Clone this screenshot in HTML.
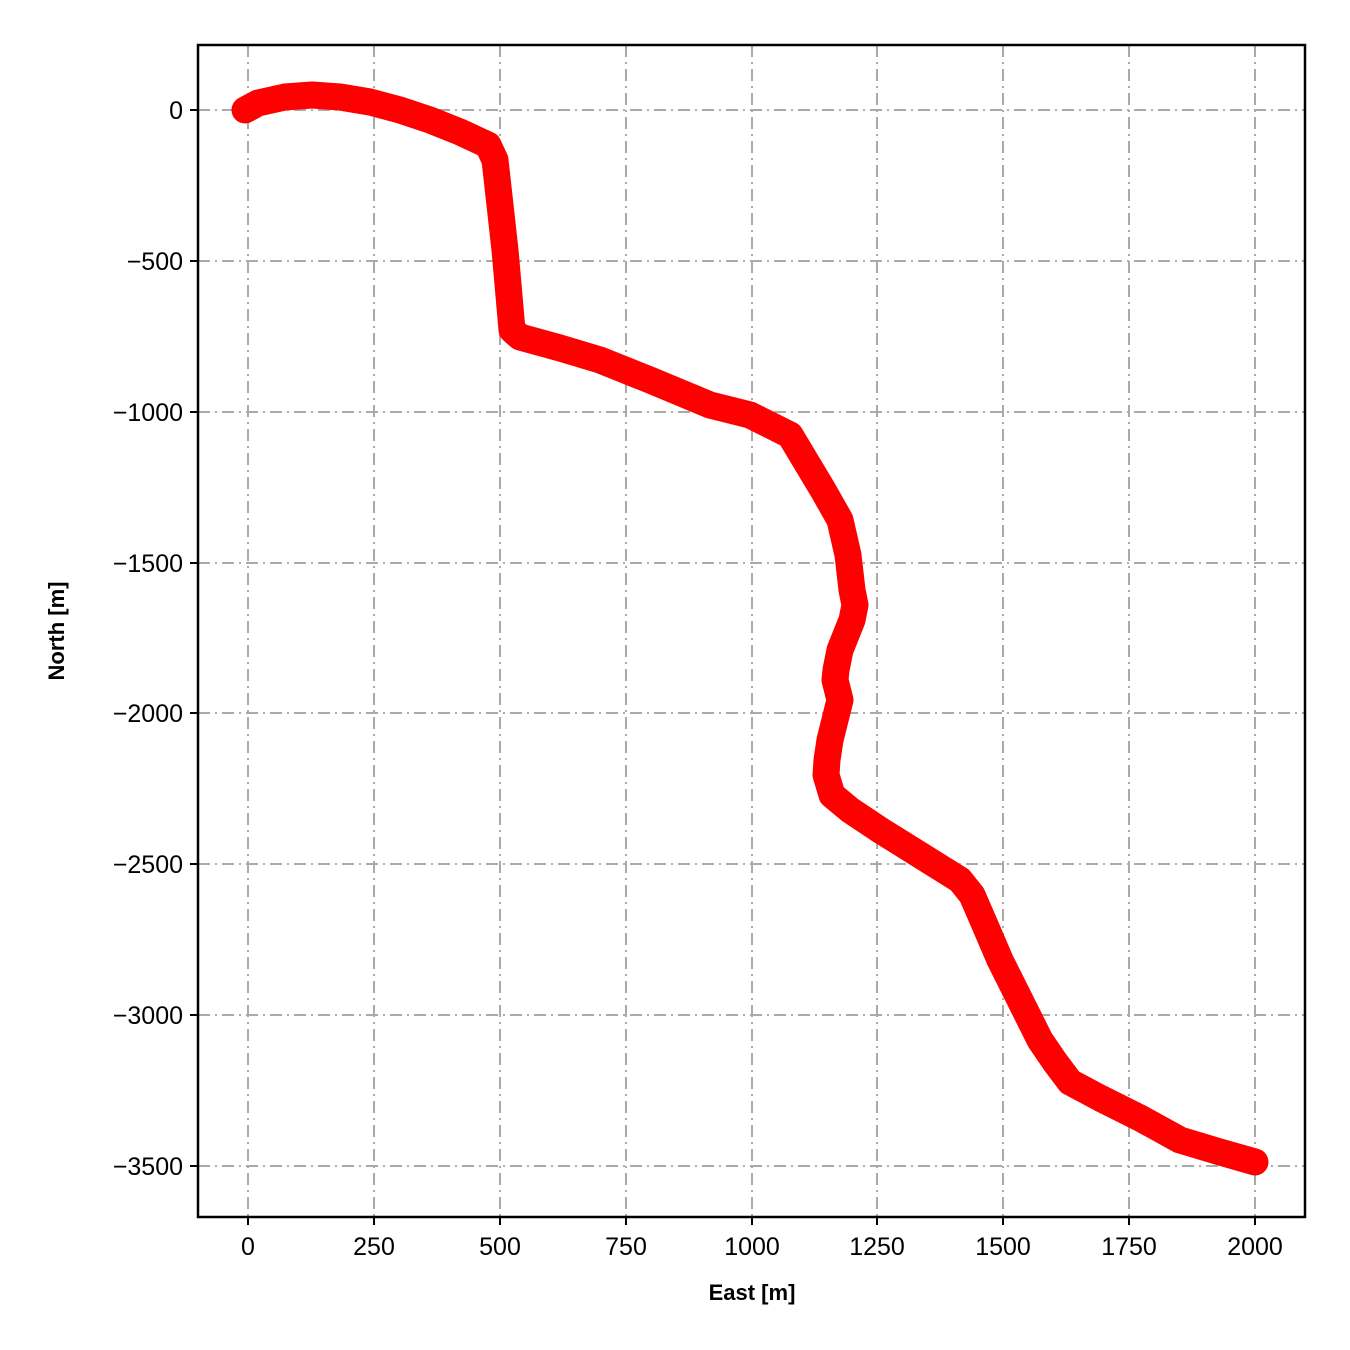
<!DOCTYPE html>
<html><head><meta charset="utf-8"><style>body{margin:0;background:#fff}svg{display:block}text{font-family:"Liberation Sans",Arial,sans-serif}</style></head><body>
<svg width="1350" height="1350" viewBox="0 0 1350 1350">
<rect width="1350" height="1350" fill="#fff"/>
<g stroke="#aaa" stroke-width="2" stroke-dasharray="12,5,2,5">
<line x1="248" y1="45" x2="248" y2="1217"/><line x1="374" y1="45" x2="374" y2="1217"/><line x1="500" y1="45" x2="500" y2="1217"/><line x1="626" y1="45" x2="626" y2="1217"/><line x1="752" y1="45" x2="752" y2="1217"/><line x1="877" y1="45" x2="877" y2="1217"/><line x1="1003" y1="45" x2="1003" y2="1217"/><line x1="1129" y1="45" x2="1129" y2="1217"/><line x1="1255" y1="45" x2="1255" y2="1217"/>
<line x1="198" y1="110" x2="1305" y2="110"/><line x1="198" y1="261" x2="1305" y2="261"/><line x1="198" y1="412" x2="1305" y2="412"/><line x1="198" y1="563" x2="1305" y2="563"/><line x1="198" y1="713" x2="1305" y2="713"/><line x1="198" y1="864" x2="1305" y2="864"/><line x1="198" y1="1015" x2="1305" y2="1015"/><line x1="198" y1="1166" x2="1305" y2="1166"/>
</g>
<polyline fill="none" stroke="#f00" stroke-width="27" stroke-linecap="round" stroke-linejoin="round" points="245,110 258,103 285,97 312,95 340,97 370,102 400,110 430,120 460,132 488,145 495,160 505,250 512,330 520,337 560,348 600,360 650,380 710,405 750,415 790,435 805,460 823,490 840,520 848,555 852,590 855,605 852,620 840,650 836,670 835,680 840,700 835,720 830,740 827,760 826,775 832,795 850,810 880,830 920,855 960,880 972,895 985,925 1000,960 1020,1000 1040,1040 1055,1062 1070,1082 1100,1098 1140,1118 1180,1140 1220,1152 1255,1162"/>
<rect x="198" y="45" width="1107" height="1172" fill="none" stroke="#000" stroke-width="2.5"/>
<g stroke="#000" stroke-width="2">
<path d="M248,1217v8M374,1217v8M500,1217v8M626,1217v8M752,1217v8M877,1217v8M1003,1217v8M1129,1217v8M1255,1217v8"/>
<path d="M198,110h-8M198,261h-8M198,412h-8M198,563h-8M198,713h-8M198,864h-8M198,1015h-8M198,1166h-8"/>
</g>
<g font-size="25" text-anchor="middle">
<text x="248" y="1255">0</text><text x="374" y="1255">250</text><text x="500" y="1255">500</text><text x="626" y="1255">750</text><text x="752" y="1255">1000</text><text x="877" y="1255">1250</text><text x="1003" y="1255">1500</text><text x="1129" y="1255">1750</text><text x="1255" y="1255">2000</text>
</g>
<g font-size="25" text-anchor="end">
<text x="183" y="119">0</text><text x="183" y="270">−500</text><text x="183" y="421">−1000</text><text x="183" y="572">−1500</text><text x="183" y="722">−2000</text><text x="183" y="873">−2500</text><text x="183" y="1024">−3000</text><text x="183" y="1175">−3500</text>
</g>
<text x="752" y="1300" font-size="22" font-weight="bold" text-anchor="middle">East [m]</text>
<text transform="translate(64,631) rotate(-90)" font-size="22" font-weight="bold" text-anchor="middle">North [m]</text>
</svg>
</body></html>
